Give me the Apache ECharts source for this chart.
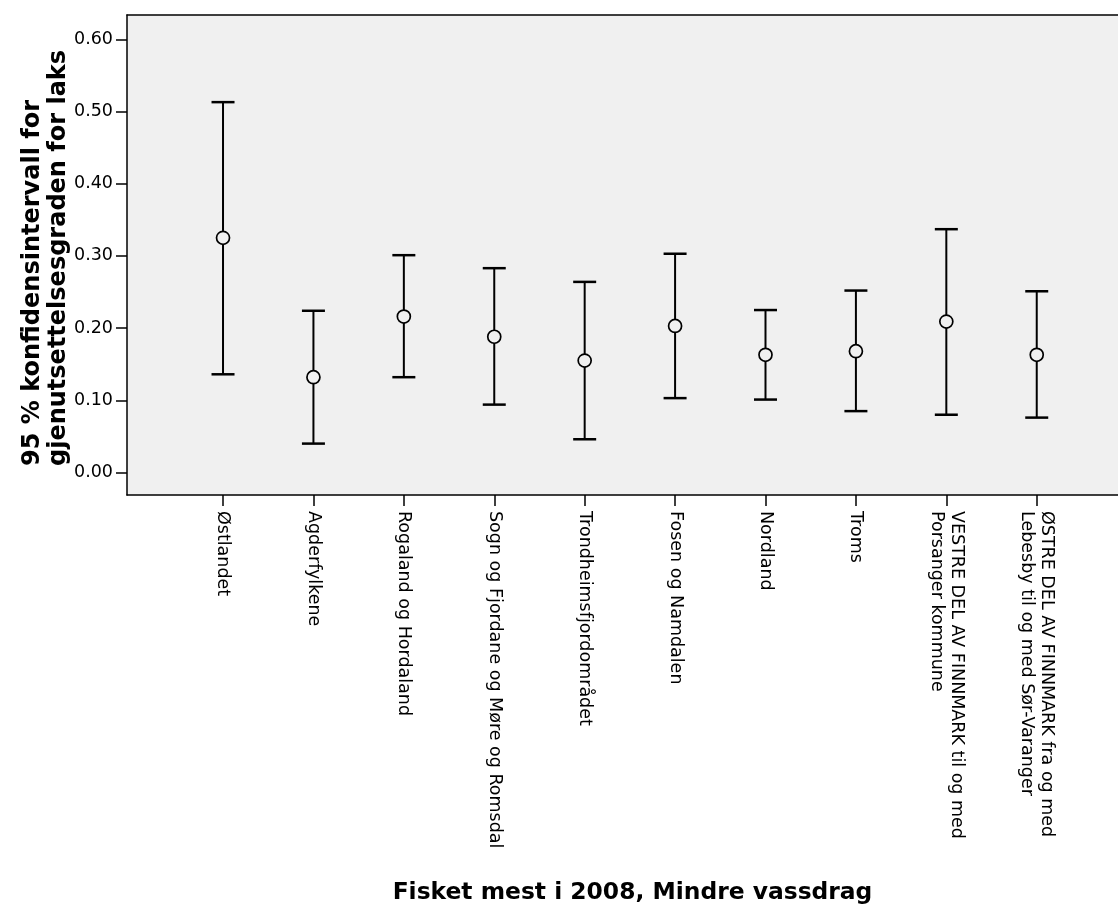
<!DOCTYPE html>
<html>
<head>
<meta charset="utf-8">
<script src="https://cdn.jsdelivr.net/npm/echarts@6/dist/echarts.min.js"></script>
<style>
html,body{margin:0;padding:0;background:#fff;overflow:hidden;}
#chart{width:1118px;height:908px;}
</style>
</head>
<body>
<div id="chart"></div>
<script>
const categories = [
  'Østlandet',
  'Agderfylkene',
  'Rogaland og Hordaland',
  'Sogn og Fjordane og Møre og Romsdal',
  'Trondheimsfjordområdet',
  'Fosen og Namdalen',
  'Nordland',
  'Troms',
  'VESTRE DEL AV FINNMARK til og med\nPorsanger kommune',
  'ØSTRE DEL AV FINNMARK fra og med\nLebesby til og med Sør-Varanger'
];
const means = [0.325, 0.132, 0.216, 0.188, 0.155, 0.203, 0.163, 0.168, 0.209, 0.163];
const lower = [0.136, 0.040, 0.132, 0.094, 0.046, 0.103, 0.101, 0.085, 0.080, 0.076];
const upper = [0.513, 0.224, 0.301, 0.283, 0.264, 0.303, 0.225, 0.252, 0.337, 0.251];
const yTicks = [0, 0.1, 0.2, 0.3, 0.4, 0.5, 0.6];
const xTicks = categories.map((c, i) => i);
const xTitle = 'Fisket mest i 2008, Mindre vassdrag';
const yTitleLines = ['95 % konfidensintervall for', 'gjenutsettelsesgraden for laks'];

const FONT = '"DejaVu Sans", "Liberation Sans", Arial, sans-serif';
const chart = echarts.init(document.getElementById('chart'), null, {renderer: 'canvas'});

const data = categories.map((c, i) => [i, lower[i], upper[i], means[i]]);

function renderItem(params, api) {
  const x = api.value(0);
  const lo = api.coord([x, api.value(1)]);
  const hi = api.coord([x, api.value(2)]);
  const mid = api.coord([x, api.value(3)]);
  const cap = 11.5;
  return {
    type: 'group',
    children: [
      {type: 'line', shape: {x1: lo[0], y1: lo[1], x2: hi[0], y2: hi[1]}, style: {stroke: '#000', lineWidth: 2}},
      {type: 'line', shape: {x1: hi[0] - cap, y1: hi[1], x2: hi[0] + cap, y2: hi[1]}, style: {stroke: '#000', lineWidth: 2.5}},
      {type: 'line', shape: {x1: lo[0] - cap, y1: lo[1], x2: lo[0] + cap, y2: lo[1]}, style: {stroke: '#000', lineWidth: 2.5}},
      {type: 'circle', shape: {cx: mid[0], cy: mid[1], r: 6.5}, style: {stroke: '#000', lineWidth: 1.7, fill: '#f0f0f0'}}
    ]
  };
}

const option = {
  animation: false,
  backgroundColor: '#fff',
  grid: {
    left: 127, top: 15, width: 1011, height: 480,
    show: true, backgroundColor: '#f0f0f0', borderColor: 'rgba(0,0,0,0)', borderWidth: 0,
    containLabel: false, outerBoundsMode: 'none'
  },
  xAxis: [{
    type: 'value',
    min: -1.062, max: 10.12,
    name: xTitle,
    nameLocation: 'middle',
    nameGap: 386,
    nameMoveOverlap: false,
    nameTextStyle: {fontFamily: FONT, fontWeight: 'bold', fontSize: 23.4, color: '#000'},
    axisLine: {show: true, onZero: false, lineStyle: {color: '#000', width: 1.5}},
    axisTick: {show: true, customValues: xTicks, length: 11, inside: false, lineStyle: {color: '#000', width: 1.5}},
    axisLabel: {
      show: true, customValues: xTicks, rotate: -90, margin: 16,
      fontFamily: FONT, fontSize: 17.5, color: '#000', lineHeight: 20,
      formatter: v => categories[Math.round(v)]
    },
    splitLine: {show: false}
  }, {
    type: 'value',
    position: 'top',
    min: -1.062, max: 10.12,
    axisLine: {show: true, onZero: false, lineStyle: {color: '#000', width: 1.5}},
    axisTick: {show: false},
    axisLabel: {show: false},
    splitLine: {show: false}
  }],
  yAxis: {
    type: 'value',
    min: -0.0312, max: 0.6337,
    name: '{a|' + yTitleLines[0] + '}\n{a|' + yTitleLines[1] + '}',
    nameLocation: 'middle',
    nameRotate: 90,
    nameGap: 55,
    nameMoveOverlap: false,
    nameTextStyle: {
      fontFamily: FONT, fontWeight: 'bold', fontSize: 24, color: '#000',
      rich: {a: {width: 422, align: 'left', fontFamily: FONT, fontWeight: 'bold', fontSize: 24, lineHeight: 26, color: '#000'}}
    },
    axisLine: {show: true, onZero: false, lineStyle: {color: '#000', width: 1.5}},
    axisTick: {show: true, customValues: yTicks, length: 11, inside: false, lineStyle: {color: '#000', width: 1.5}},
    axisLabel: {
      show: true, customValues: yTicks, margin: 14,
      fontFamily: FONT, fontSize: 17.5, color: '#000',
      formatter: v => v.toFixed(2)
    },
    splitLine: {show: false}
  },
  series: [{
    type: 'custom',
    renderItem: renderItem,
    encode: {x: 0, y: [1, 2, 3]},
    clip: false,
    data: data
  }]
};
chart.setOption(option);
</script>
</body>
</html>
